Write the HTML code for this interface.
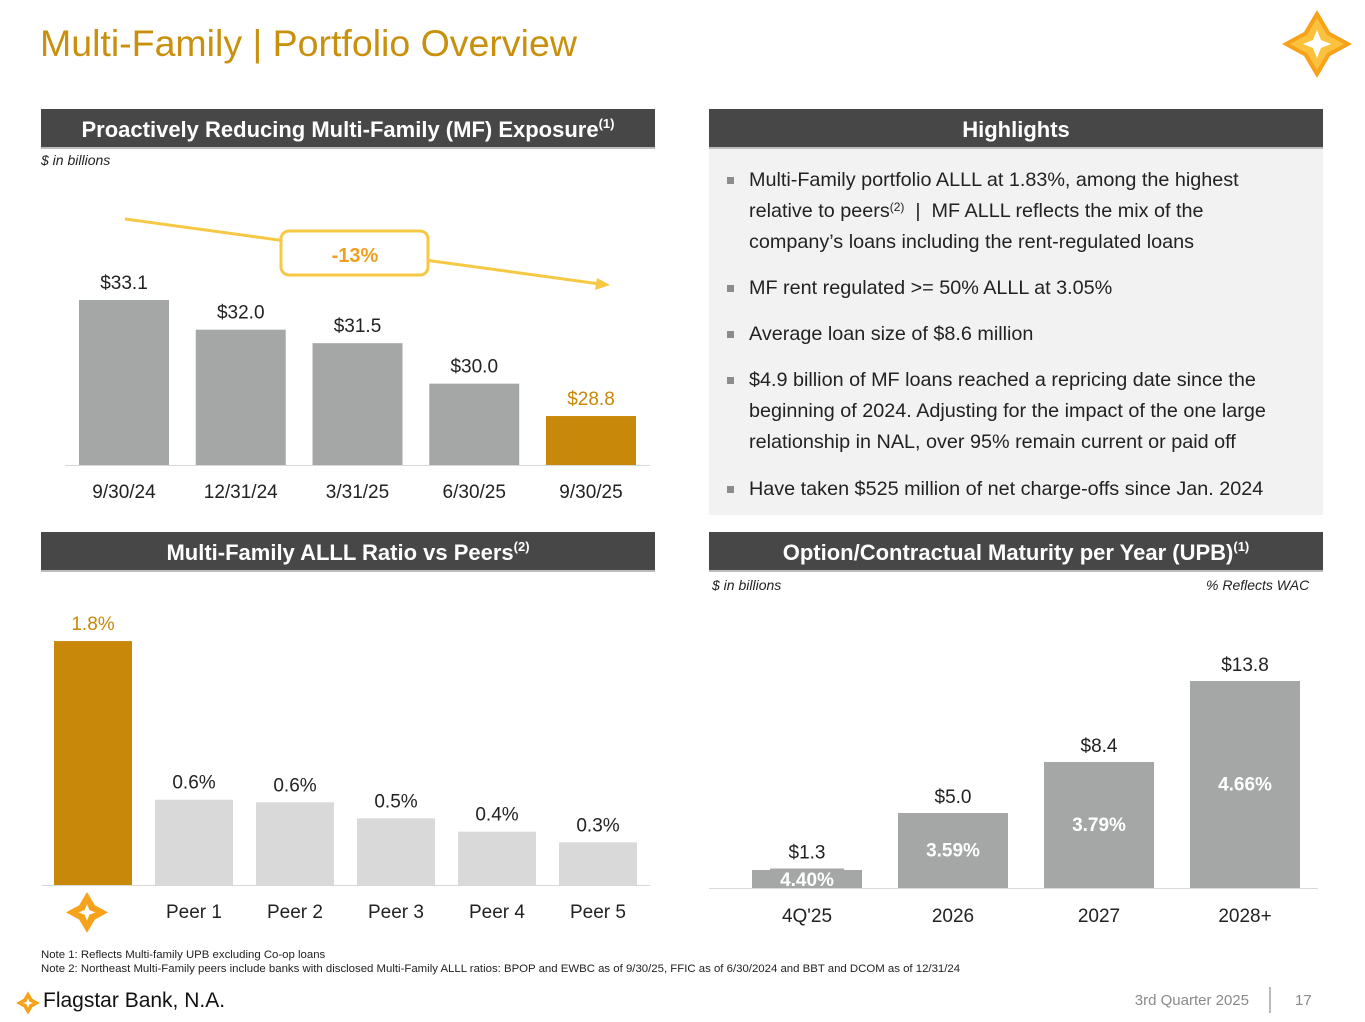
<!DOCTYPE html>
<html><head><meta charset="utf-8">
<style>
html,body{margin:0;padding:0;background:#fff;}
body{width:1365px;height:1022px;position:relative;overflow:hidden;font-family:"Liberation Sans",Arial,sans-serif;}
.abs{position:absolute;}
.hdr{position:absolute;height:40px;background:#474747;border-bottom:2px solid #bdbdbd;color:#fff;font-weight:bold;font-size:22px;text-align:center;line-height:42px;box-sizing:border-box;}
.hdr sup{font-size:13px;line-height:0;vertical-align:9px;}
.it{position:absolute;font-style:italic;font-size:14px;color:#222;}
.hl{position:absolute;left:709px;top:149px;width:614px;height:366px;background:#f2f2f2;}
.b{position:absolute;left:40px;font-size:19.8px;color:#222;line-height:31px;width:570px;white-space:nowrap;}
.b:before{content:"";position:absolute;left:-22px;top:12px;width:7px;height:7px;background:#8c8c8c;}
.b sup{font-size:12px;line-height:0;vertical-align:6px;}
.note{position:absolute;left:41px;font-size:11.4px;color:#222;white-space:nowrap;}
</style></head><body>
<div class="abs" style="left:40px;top:22px;font-size:37.5px;color:#c8900c;">Multi-Family | Portfolio Overview</div>
<svg class="abs" style="left:1282px;top:10px" width="70" height="68" viewBox="0 0 70 68">
<path d="M35 0 L48 22 L70 34 L48 46 L35 68 L22 46 L0 34 L22 22 Z" fill="#f7a21b"/>
<path d="M35 8 L45 25 L62 34 L45 43 L35 60 L25 43 L8 34 L25 25 Z" fill="#fcc23d"/>
<path d="M35 20 L39 30 L49 34 L39 38 L35 48 L31 38 L21 34 L31 30 Z" fill="#fff"/>
</svg>

<div class="hdr" style="left:41px;top:109px;width:614px;">Proactively Reducing Multi-Family (MF) Exposure<sup>(1)</sup></div>
<div class="it" style="left:41px;top:152px;">$ in billions</div>
<div class="hdr" style="left:709px;top:109px;width:614px;">Highlights</div>
<div class="hl">
<div class="b" style="top:16px;">Multi-Family portfolio ALLL at 1.83%, among the highest<br>relative to peers<sup>(2)</sup> &nbsp;| &nbsp;MF ALLL reflects the mix of the<br>company’s loans including the rent-regulated loans</div>
<div class="b" style="top:124px;">MF rent regulated &gt;= 50% ALLL at 3.05%</div>
<div class="b" style="top:170px;">Average loan size of $8.6 million</div>
<div class="b" style="top:216px;">$4.9 billion of MF loans reached a repricing date since the<br>beginning of 2024. Adjusting for the impact of the one large<br>relationship in NAL, over 95% remain current or paid off</div>
<div class="b" style="top:325px;">Have taken $525 million of net charge-offs since Jan. 2024</div>
</div>

<div class="hdr" style="left:41px;top:532px;width:614px;">Multi-Family ALLL Ratio vs Peers<sup>(2)</sup></div>
<div class="hdr" style="left:709px;top:532px;width:614px;">Option/Contractual Maturity per Year (UPB)<sup>(1)</sup></div>
<div class="it" style="left:712px;top:577px;">$ in billions</div>
<div class="it" style="left:1206px;top:577px;">% Reflects WAC</div>

<svg id="c1" class="abs" style="left:0;top:0" width="1365" height="1022"></svg>

<div class="note" style="top:949px;">Note 1: Reflects Multi-family UPB excluding Co-op loans</div>
<div class="note" style="top:963px;">Note 2: Northeast Multi-Family peers include banks with disclosed Multi-Family ALLL ratios: BPOP and EWBC as of 9/30/25, FFIC as of 6/30/2024 and BBT and DCOM as of 12/31/24</div>
<svg class="abs" style="left:16px;top:991px" width="24" height="24" viewBox="0 0 70 68">
<path d="M35 0 L48 22 L70 34 L48 46 L35 68 L22 46 L0 34 L22 22 Z" fill="#f7a21b"/><path d="M35 20 L39 30 L49 34 L39 38 L35 48 L31 38 L21 34 L31 30 Z" fill="#fff"/></svg>
<div class="abs" style="left:43px;top:989px;font-size:21px;color:#111;">Flagstar Bank, N.A.</div>
<div class="abs" style="right:116px;top:992px;font-size:15px;color:#8a8a8a;">3rd Quarter 2025</div>
<div class="abs" style="left:1269px;top:987px;width:2px;height:26px;background:#bbb;"></div>
<div class="abs" style="left:1295px;top:992px;font-size:15px;color:#8a8a8a;">17</div>

<script>
const expCats=["9/30/24","12/31/24","3/31/25","6/30/25","9/30/25"];
const expVals=[33.1,32.0,31.5,30.0,28.8];
const expLabels=["$33.1","$32.0","$31.5","$30.0","$28.8"];
const alllCats=["","Peer 1","Peer 2","Peer 3","Peer 4","Peer 5"];
const alllVals=[1.83,0.64,0.62,0.50,0.40,0.32];
const alllLabels=["1.8%","0.6%","0.6%","0.5%","0.4%","0.3%"];
const matCats=["4Q'25","2026","2027","2028+"];
const matVals=[1.3,5.0,8.4,13.8];
const matLabels=["$1.3","$5.0","$8.4","$13.8"];
const matWac=["4.40%","3.59%","3.79%","4.66%"];

const NS="http://www.w3.org/2000/svg";
const svg=document.getElementById('c1');
function mk(tag,attrs,parent){const e=document.createElementNS(NS,tag);for(const k in attrs)e.setAttribute(k,attrs[k]);(parent||svg).appendChild(e);return e;}
function txt(x,y,s,attrs){const t=mk('text',Object.assign({x:x,y:y,'text-anchor':'middle','font-family':'Liberation Sans, Arial, sans-serif','font-size':19,fill:'#222'},attrs||{}));t.textContent=s;return t;}

// Chart 1
const y1=v=>465-(v-26.985)*26.98;
const x1=i=>79+i*116.75;
let ax=mk('line',{x1:65,x2:650,y1:465.5,y2:465.5,stroke:'#d9d9d9','stroke-width':1});


expVals.forEach((v,i)=>{
  const last=i===expVals.length-1;
  const r=mk('rect',{x:x1(i),y:y1(v),width:90,height:465-y1(v),fill:last?'#c8880a':'#a5a7a6'});
  
  
  const l=txt(x1(i)+45,y1(v)-11,expLabels[i],{fill:last?'#c8880a':'#222'});
  
  
  const c=txt(x1(i)+45,498,expCats[i]);
  
  
});
let tl=mk('line',{x1:125,y1:219,x2:600,y2:284,stroke:'#f7c844','stroke-width':3});


mk('polygon',{points:'610,285 597,278 595,290',fill:'#f7c844'});
let bx=mk('rect',{x:281,y:231,width:147,height:44,rx:8,fill:'#fff',stroke:'#f7c844','stroke-width':3});


txt(355,262,'-13%',{fill:'#f0a020','font-weight':'bold','font-size':20});

// Chart 2
const y2=v=>885-v*133.3;
const x2=i=>54+i*101;
alllVals.forEach((v,i)=>{
  const r=mk('rect',{x:x2(i),y:y2(v),width:78,height:885-y2(v),fill:i===0?'#c8880a':'#d9d9d9'});
  
  
  const l=txt(x2(i)+39,y2(v)-11,alllLabels[i],{fill:i===0?'#c8880a':'#222'});
  
  
  if(alllCats[i]){const c=txt(x2(i)+39,918,alllCats[i]);
  
  }
});
ax=mk('line',{x1:42,x2:650,y1:885.5,y2:885.5,stroke:'#d9d9d9','stroke-width':1});


const g=mk('g',{transform:'translate(66,892) scale(0.6)'});


mk('path',{d:'M35 0 L48 22 L70 34 L48 46 L35 68 L22 46 L0 34 L22 22 Z',fill:'#f7a21b'},g);
mk('path',{d:'M35 20 L39 30 L49 34 L39 38 L35 48 L31 38 L21 34 L31 30 Z',fill:'#fff'},g);

// Chart 3
const y3=v=>888-v*15;
const x3=i=>752+i*146;
matVals.forEach((v,i)=>{
  let r;
  if(i===0){
    mk('rect',{x:x3(i)+18,y:y3(v),width:74,height:888-y3(v),fill:'#a5a7a6'});
    r=mk('rect',{x:x3(i),y:870,width:110,height:18,fill:'#a5a7a6'});
  } else r=mk('rect',{x:x3(i),y:y3(v),width:110,height:888-y3(v),fill:'#a5a7a6'});
  
  
  const l=txt(x3(i)+55,y3(v)-10,matLabels[i]);
  
  
  const wy=i===0?886:(y3(v)+888)/2+6;
  const w=txt(x3(i)+55,wy,matWac[i],{fill:'#fff','font-weight':'bold'});
  
  
  const c=txt(x3(i)+55,922,matCats[i]);
  
  
});
ax=mk('line',{x1:709,x2:1318,y1:888.5,y2:888.5,stroke:'#d9d9d9','stroke-width':1});


</script>
</body></html>
